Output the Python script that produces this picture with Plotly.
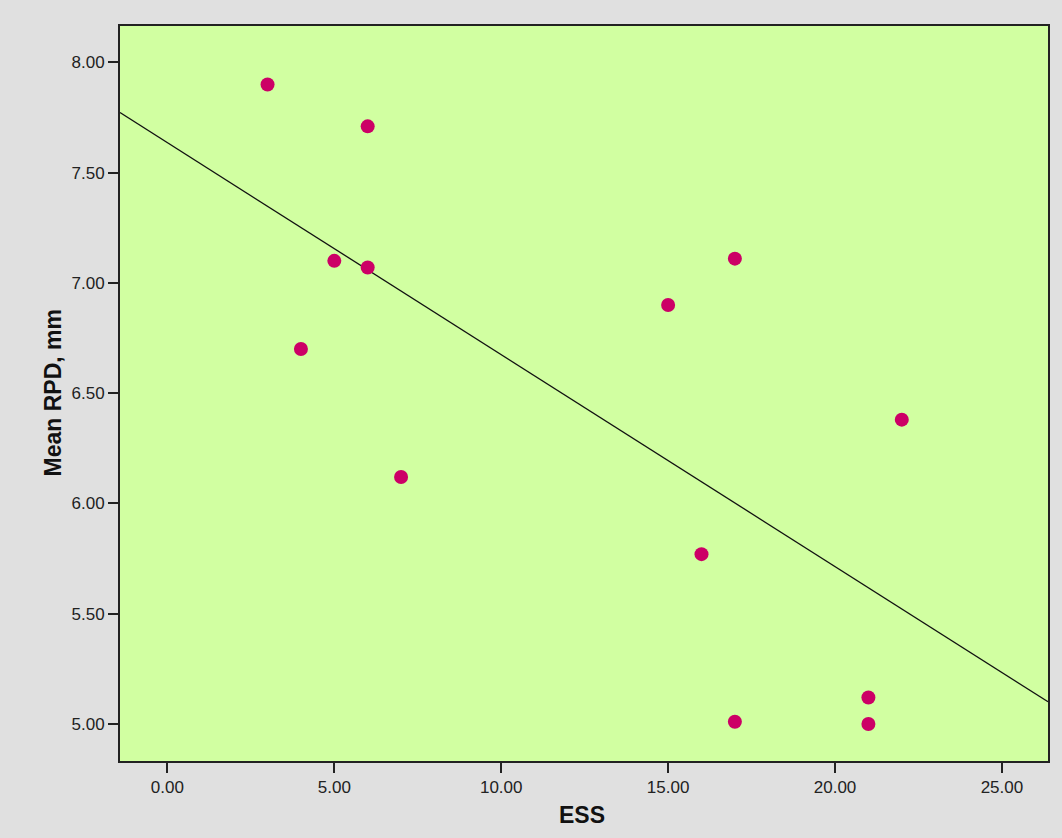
import numpy as np
import plotly.graph_objects as go

# Data
ess = [3, 6, 5, 6, 4, 7, 15, 17, 22, 16, 17, 21, 21]
mean_rpd = [7.90, 7.71, 7.10, 7.07, 6.70, 6.12, 6.90, 7.11, 6.38, 5.77, 5.01, 5.12, 5.00]

x_range = [-1.42, 26.38]
y_range = [4.832, 8.165]
x_ticks = [0, 5, 10, 15, 20, 25]
y_ticks = [5.0, 5.5, 6.0, 6.5, 7.0, 7.5, 8.0]

slope, intercept = np.polyfit(ess, mean_rpd, 1)
fit_x = np.array(x_range)
fit_y = slope * fit_x + intercept

fig = go.Figure()
fig.add_trace(go.Scatter(x=fit_x, y=fit_y, mode="lines",
                         line=dict(color="#111111", width=1.3),
                         showlegend=False, hoverinfo="skip"))
fig.add_trace(go.Scatter(x=ess, y=mean_rpd, mode="markers",
                         marker=dict(size=14, color="#cc0066", line=dict(width=0)),
                         showlegend=False))

W, H = 1062, 838
L, R, T, B = 120, 14, 26, 77
pw = W - L - R
ph = H - T - B

axis_common = dict(showline=True, mirror=True, linecolor="#222222", linewidth=2,
                   ticks="outside", ticklen=10, tickwidth=2, tickcolor="#222222",
                   showgrid=False, zeroline=False, tickformat=".2f",
                   tickfont=dict(family="Liberation Sans, Arial", size=17, color="#222222"))

fig.update_layout(
    width=W, height=H,
    margin=dict(l=L, r=R, t=T, b=B, autoexpand=False),
    paper_bgcolor="#e0e0e0",
    plot_bgcolor="#d1ffa1",
    xaxis=dict(range=x_range, tickvals=x_ticks, **axis_common),
    yaxis=dict(range=y_range, tickvals=y_ticks, **axis_common),
    annotations=[
        dict(text="<b>ESS</b>", xref="paper", yref="paper",
             x=(582 - L) / pw, y=-(815 - (T + ph)) / ph,
             xanchor="center", yanchor="middle", showarrow=False,
             font=dict(family="Liberation Sans, Arial", size=23, color="#111111")),
        dict(text="<b>Mean RPD, mm</b>", xref="paper", yref="paper",
             x=-(L - 52) / pw, y=0.5, textangle=-90,
             xanchor="center", yanchor="middle", showarrow=False,
             font=dict(family="Liberation Sans, Arial", size=23, color="#111111")),
    ],
)

fig.write_html("out.html")
